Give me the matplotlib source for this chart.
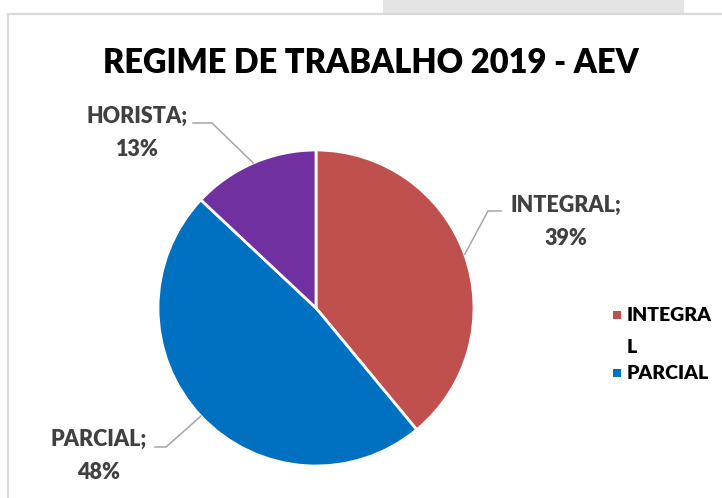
import numpy as np
import matplotlib
matplotlib.use("Agg")
import matplotlib.pyplot as plt
from matplotlib.patches import Rectangle

categories = ["INTEGRAL", "PARCIAL", "HORISTA"]
values = [39, 48, 13]
colors = ["#C0504D", "#0070C0", "#7030A0"]
legend_labels = ["INTEGRA\nL", "PARCIAL"]
title = "REGIME DE TRABALHO 2019 - AEV"

plt.rcParams['font.family'] = ['Lato', 'DejaVu Sans']

W, H = 722, 498
fig = plt.figure(figsize=(W/100, H/100), dpi=100)
fig.patch.set_facecolor("white")

def fx(px): return px / W
def fy(py): return 1 - py / H

# decorative frame and top gray strip
fig.patches.append(Rectangle((fx(383), fy(13)), fx(684) - fx(383), 13 / H,
                             transform=fig.transFigure, facecolor="#E4E4E4",
                             edgecolor="none", zorder=0))
fig.patches.append(Rectangle((fx(8), fy(H + 10)), fx(W + 20) - fx(8), (H + 10 - 14) / H,
                             transform=fig.transFigure, facecolor="none",
                             edgecolor="#D9D9D9", linewidth=1.6, zorder=1))

cx, cy, r = 316, 308, 158
ax = fig.add_axes([fx(cx - r), fy(cy + r), 2 * r / W, 2 * r / H])
wedges, _ = ax.pie(values, colors=colors, startangle=90, counterclock=False,
                   radius=1, wedgeprops=dict(edgecolor="white", linewidth=2))
ax.set_xlim(-1, 1)
ax.set_ylim(-1, 1)
ax.set_aspect("equal")
ax.axis("off")

fig.text(fx(371), fy(63), title, ha="center", va="center", fontsize=23.5,
         fontweight="heavy", color="black")

# data labels with leader lines
label_pos = {"INTEGRAL": (566, 222), "PARCIAL": (99, 456), "HORISTA": (137, 133)}
elbow = {"INTEGRAL": (488, 211, 501), "PARCIAL": (166, 447, 155), "HORISTA": (212, 123, 193)}
total = sum(values)
for w, cat, v in zip(wedges, categories, values):
    ang = np.deg2rad((w.theta1 + w.theta2) / 2)
    x0, y0 = np.cos(ang), np.sin(ang)
    bx, by, ex = elbow[cat]
    pts_x = [x0, (bx - cx) / r, (ex - cx) / r]
    pts_y = [y0, (cy - by) / r, (cy - by) / r]
    ax.plot(pts_x, pts_y, color="#A6A6A6", linewidth=1.1, clip_on=False)
    tx, ty = label_pos[cat]
    fig.text(fx(tx), fy(ty), f"{cat};\n{round(100 * v / total)}%", ha="center",
             va="center", fontsize=15.5, fontweight="heavy", color="#404040",
             linespacing=1.72)

# legend (manual, as in the reference)
leg_y = [315, 373]
for lab, col, ly in zip(legend_labels, colors[:2], leg_y):
    fig.patches.append(Rectangle((fx(613), fy(ly + 4)), 8 / W, 8 / H,
                                 transform=fig.transFigure, facecolor=col,
                                 edgecolor="none"))
    fig.text(fx(627), fy(ly - 8), lab, ha="left", va="top", fontsize=14,
             fontweight="heavy", color="black", linespacing=2.05)

fig.savefig("out.png", dpi=100)
